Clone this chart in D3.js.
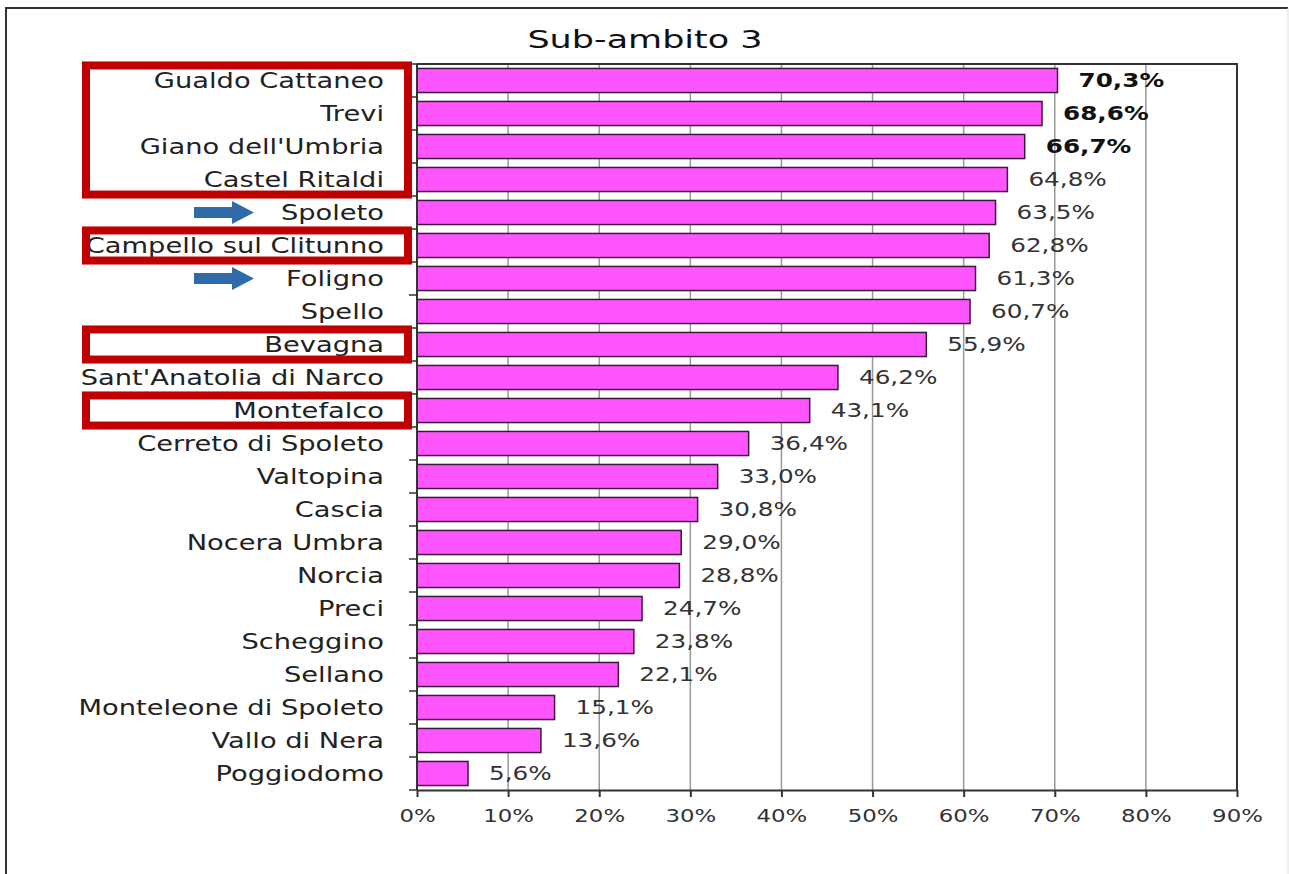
<!DOCTYPE html>
<html>
<head>
<meta charset="utf-8">
<script src="https://cdn.jsdelivr.net/npm/d3@7"></script>
<style>
  body { margin: 0; background: #fff; }
  svg { display: block; }
</style>
</head>
<body>
<div id="chart"></div>
<script>
var categories = ["Gualdo Cattaneo", "Trevi", "Giano dell'Umbria", "Castel Ritaldi", "Spoleto",
                  "Campello sul Clitunno", "Foligno", "Spello", "Bevagna", "Sant'Anatolia di Narco",
                  "Montefalco", "Cerreto di Spoleto", "Valtopina", "Cascia", "Nocera Umbra", "Norcia",
                  "Preci", "Scheggino", "Sellano", "Monteleone di Spoleto", "Vallo di Nera", "Poggiodomo"];
var values = [70.3, 68.6, 66.7, 64.8, 63.5, 62.8, 61.3, 60.7, 55.9, 46.2, 43.1, 36.4,
              33.0, 30.8, 29.0, 28.8, 24.7, 23.8, 22.1, 15.1, 13.6, 5.6];
var boldLabels = ["Gualdo Cattaneo", "Trevi", "Giano dell'Umbria"];
var xTicks = [0, 10, 20, 30, 40, 50, 60, 70, 80, 90];
var boxedGroups = [["Gualdo Cattaneo", "Castel Ritaldi"], ["Campello sul Clitunno", "Campello sul Clitunno"],
                   ["Bevagna", "Bevagna"], ["Montefalco", "Montefalco"]];
var arrowed = ["Spoleto", "Foligno"];
var title = "Sub-ambito 3";

var width = 1289, height = 874;
var plotLeft = 417, plotRight = 1237, plotTop = 64, plotBottom = 790;
var sx = 1.3; // the reference text is stretched sideways
var font = "DejaVu Sans, Verdana, sans-serif";

var svg = d3.select("#chart").append("svg")
            .attr("width", width)
            .attr("height", height);

// outer frame
svg.append("path")
   .attr("d", "M6,874 V8 H1288")
   .attr("fill", "none")
   .attr("stroke", "#333")
   .attr("stroke-width", 2);
svg.append("line")
   .attr("x1", 1288).attr("y1", 8).attr("x2", 1288).attr("y2", 874)
   .attr("stroke", "#ddd").attr("stroke-width", 1);

var x = d3.scaleLinear().domain([0, 90]).range([plotLeft, plotRight]);
var y = d3.scaleBand().domain(categories).range([plotTop, plotBottom]).paddingInner(0.27).paddingOuter(0.135);

var fmt = d3.format(".1f");
function pct(v){ return fmt(v).replace(".", ",") + "%"; }

// gridlines
svg.append("g").selectAll("line")
   .data(xTicks.filter(function(d){ return d > 0 && d < 90; }))
   .join("line")
   .attr("x1", function(d){ return x(d); })
   .attr("x2", function(d){ return x(d); })
   .attr("y1", plotTop).attr("y2", plotBottom)
   .attr("stroke", "#999").attr("stroke-width", 1.5);

// plot border top & right
svg.append("path")
   .attr("d", "M" + plotLeft + "," + plotTop + " H" + plotRight + " V" + plotBottom)
   .attr("fill", "none")
   .attr("stroke", "#333")
   .attr("stroke-width", 2);

// bars
svg.append("g").selectAll("rect")
   .data(categories)
   .join("rect")
   .attr("x", x(0))
   .attr("y", function(d){ return y(d); })
   .attr("width", function(d, i){ return x(values[i]) - x(0); })
   .attr("height", y.bandwidth())
   .attr("fill", "#ff55ff")
   .attr("stroke", "#3a1a3a")
   .attr("stroke-width", 1.5);

// value labels
svg.append("g").selectAll("text")
   .data(categories)
   .join("text")
   .attr("transform", function(d, i){
       return "translate(" + (x(values[i]) + 21) + "," + (y(d) + y.bandwidth()/2) + ") scale(" + sx + ",1)";
   })
   .attr("dy", "0.36em")
   .style("font-family", font)
   .style("font-size", "19px")
   .style("font-weight", function(d){ return boldLabels.indexOf(d) >= 0 ? "bold" : "normal"; })
   .attr("fill", function(d){ return boldLabels.indexOf(d) >= 0 ? "#111" : "#333"; })
   .text(function(d, i){ return pct(values[i]); });

// y axis line and ticks at band boundaries
var step = y.step();
var bounds = categories.map(function(d){ return y(d) - step * y.paddingInner() / 2; });
bounds.push(plotBottom);
svg.append("line")
   .attr("x1", plotLeft).attr("x2", plotLeft).attr("y1", plotTop).attr("y2", plotBottom)
   .attr("stroke", "#333").attr("stroke-width", 2);
svg.append("g").selectAll("line")
   .data(bounds)
   .join("line")
   .attr("x1", plotLeft - 8).attr("x2", plotLeft)
   .attr("y1", function(d){ return d; }).attr("y2", function(d){ return d; })
   .attr("stroke", "#333").attr("stroke-width", 1.5);

// category labels
svg.append("g").selectAll("text")
   .data(categories)
   .join("text")
   .attr("transform", function(d){
       return "translate(384," + (y(d) + y.bandwidth()/2) + ") scale(" + sx + ",1)";
   })
   .attr("dy", "0.36em")
   .attr("text-anchor", "end")
   .style("font-family", font)
   .style("font-size", "21px")
   .attr("fill", "#222")
   .text(function(d){ return d; });

// x axis
var xAxis = svg.append("g")
   .attr("transform", "translate(0," + plotBottom + ")")
   .call(d3.axisBottom(x).tickValues(xTicks).tickFormat(function(d){ return d + "%"; })
          .tickSize(7).tickSizeOuter(0).tickPadding(12));
xAxis.select(".domain").attr("stroke", "#333").attr("stroke-width", 2);
xAxis.selectAll(".tick line").attr("stroke", "#333").attr("stroke-width", 2);
xAxis.selectAll(".tick text")
     .attr("transform", "scale(1.27,1)")
     .style("font-family", font)
     .style("font-size", "18px")
     .attr("fill", "#333");

// title
svg.append("text")
   .attr("transform", "translate(645,48) scale(1.4,1)")
   .attr("text-anchor", "middle")
   .style("font-family", font)
   .style("font-size", "25px")
   .attr("fill", "#111")
   .text(title);

// red boxes
svg.append("g").selectAll("rect")
   .data(boxedGroups)
   .join("rect")
   .attr("x", 86)
   .attr("width", 322)
   .attr("y", function(g){ return y(g[0]) - 3; })
   .attr("height", function(g){ return y(g[1]) + y.bandwidth() + 3 - (y(g[0]) - 3); })
   .attr("fill", "none")
   .attr("stroke", "#c00000")
   .attr("stroke-width", 8);

// blue arrows
svg.append("g").selectAll("path")
   .data(arrowed)
   .join("path")
   .attr("d", function(d){
       var cy = y(d) + y.bandwidth()/2;
       return "M194," + (cy - 5.5) + " H232 V" + (cy - 11.5) + " L254," + cy +
              " L232," + (cy + 11.5) + " V" + (cy + 5.5) + " H194 Z";
   })
   .attr("fill", "#2e6ba8");
</script>
</body>
</html>
